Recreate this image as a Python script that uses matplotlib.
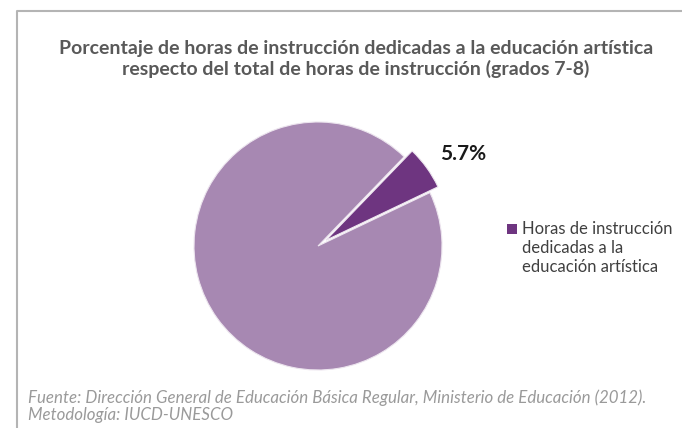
import matplotlib
matplotlib.use("Agg")
import matplotlib.pyplot as plt
from matplotlib.patches import Rectangle
from matplotlib.lines import Line2D

plt.rcParams['font.family'] = ['Lato', 'DejaVu Sans']

# data
categories = ["Horas de instrucción dedicadas a la educación artística", "Otras horas de instrucción"]
values = [5.7, 94.3]
value_labels = ["5.7%", ""]
legend_label = "Horas de instrucción\ndedicadas a la\neducación artística"
colors = ["#6e3580", "#a788b2"]
title = ("Porcentaje de horas de instrucción dedicadas a la educación artística\n"
         "respecto del total de horas de instrucción (grados 7-8)")
source = ("Fuente: Dirección General de Educación Básica Regular, Ministerio de Educación (2012).\n"
          "Metodología: IUCD-UNESCO")

W, H = 682, 428
fig = plt.figure(figsize=(W / 100, H / 100), dpi=100)
fig.patch.set_facecolor("white")

# frame (left and top border)
fig.add_artist(Line2D([17 / W, 17 / W, 1.0], [0, 1 - 11 / H, 1 - 11 / H],
                      transform=fig.transFigure, color="#b4b4b4", lw=1.5))

# pie axes
cx, cy, r = 318, H - 246, 124
L = 1.3
S = 2 * r * L
ax = fig.add_axes([(cx - S / 2) / W, (cy - S / 2) / H, S / W, S / H])
wedges, _ = ax.pie(values, colors=colors, startangle=25.5, counterclock=True,
                   explode=[0.08, 0],
                   wedgeprops=dict(edgecolor="#ece4ee", linewidth=0.8))
ax.set_xlim(-L, L)
ax.set_ylim(-L, L)
ax.set_aspect("equal")
ax.axis("off")

ax.text(1.17, 0.74, value_labels[0], ha="center", va="center", fontsize=15,
        fontweight="bold", color="#1a1a1a")

# title
fig.text(356 / W, 1 - 59 / H, title, ha="center", va="center", fontsize=14,
         fontweight="bold", color="#595959", linespacing=1.2)

# legend (manual)
fig.add_artist(Rectangle((507 / W, 1 - 234 / H), 10 / W, 10 / H, transform=fig.transFigure,
                         facecolor=colors[0], edgecolor="none"))
fig.text(522 / W, 1 - 221 / H, legend_label, ha="left", va="top", fontsize=12,
         color="#404040", linespacing=1.24)

# source
fig.text(28 / W, 1 - 389 / H, source, ha="left", va="top", fontsize=12.2,
         style="italic", color="#9a9a9a", linespacing=1.12)

fig.savefig("out.png", dpi=100)
